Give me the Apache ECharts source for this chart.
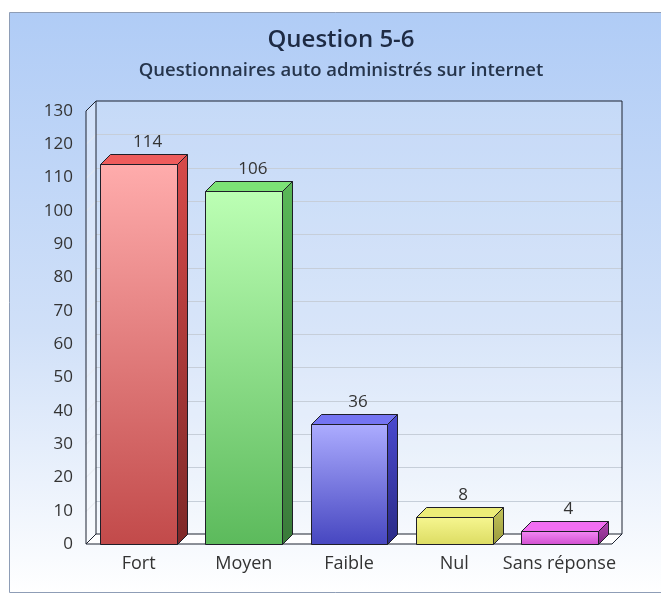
<!DOCTYPE html>
<html><head><meta charset="utf-8">
<script src="https://cdn.jsdelivr.net/npm/echarts@6/dist/echarts.min.js"></script>
<style>html,body{margin:0;padding:0;background:#fff}#c{width:661px;height:596px}</style>
</head><body><div id="c"></div>
<script>
const categories = ['Fort', 'Moyen', 'Faible', 'Nul', 'Sans réponse'];
const values = [114, 106, 36, 8, 4];
const yTicks = [0, 10, 20, 30, 40, 50, 60, 70, 80, 90, 100, 110, 120, 130];
const titleText = 'Question 5-6';
const subtitleText = 'Questionnaires auto administrés sur internet';

// per-bar colours: [frontTop, frontBottom, topFace, sideTop, sideBottom]
const palette = [
  ['#ffacac', '#c24a4a', '#ee5c5c', '#d84a4a', '#7e2828'],
  ['#bcffb4', '#5cba5c', '#7ce276', '#5ab858', '#3a7a3a'],
  ['#acacff', '#4646c0', '#7474f2', '#4a4ad0', '#2a2a86'],
  ['#f6f690', '#dcdc62', '#ecec78', '#c4c45a', '#9a9a3c'],
  ['#f488f4', '#d04ed0', '#f26ef2', '#b444b4', '#7e2a7e']
];
const D = 10;
const FONT = '"Open Sans", sans-serif';

const chart = echarts.init(document.getElementById('c'), null, {renderer: 'canvas'});

function grad(a, b) {
  return new echarts.graphic.LinearGradient(0, 0, 0, 1, [{offset: 0, color: a}, {offset: 1, color: b}]);
}

const option = {
  backgroundColor: '#ffffff',
  animation: false,
  graphic: [
    {type: 'rect', z: -10, shape: {x: 9.5, y: 12.5, width: 670, height: 580},
     style: {fill: new echarts.graphic.LinearGradient(0, 0, 0, 1, [
       {offset: 0, color: '#b0ccf6'}, {offset: 0.55, color: '#d0e0f8'}, {offset: 1, color: '#ffffff'}]),
       stroke: '#8e9db6', lineWidth: 1}},
    {type: 'text', z: 10, x: 341, y: 40, style: {text: titleText, fill: '#1e2b44',
      font: '600 24px ' + FONT, textAlign: 'center', textVerticalAlign: 'middle'}},
    {type: 'text', z: 10, x: 341, y: 71, style: {text: subtitleText, fill: '#26354c',
      font: '600 18.5px ' + FONT, textAlign: 'center', textVerticalAlign: 'middle'}}
  ],
  grid: {left: 86, top: 111, width: 526, height: 433, containLabel: false},
  xAxis: {
    type: 'category', data: categories,
    axisLine: {show: false}, axisTick: {show: false},
    axisLabel: {color: '#333', fontSize: 18, fontFamily: FONT, margin: 11, interval: 0}
  },
  yAxis: {
    type: 'value', min: 0, max: 130, interval: 10,
    axisLine: {show: false}, axisTick: {show: false}, splitLine: {show: false},
    axisLabel: {color: '#333', fontSize: 17, fontFamily: FONT, margin: 13}
  },
  series: [
    {
      type: 'custom', z: 1, silent: true,
      data: [[0, 0]],
      renderItem: function (params, api) {
        const cs = params.coordSys;
        const x = cs.x, y = cs.y, w = cs.width, h = cs.height;
        const children = [];
        children.push({type: 'rect', shape: {x: x + D, y: y - D, width: w, height: h},
          style: {fill: 'rgba(255,255,255,0.18)', stroke: null}});
        yTicks.forEach(function (v) {
          if (v === 0 || v === 130) return;
          const py = Math.round(api.coord([0, v])[1]) + 0.5;
          children.push({type: 'line', shape: {x1: x + D, y1: py - D, x2: x + w + D, y2: py - D},
            style: {stroke: '#c6ced9', lineWidth: 1}});
          children.push({type: 'line', shape: {x1: x, y1: py, x2: x + D, y2: py - D},
            style: {stroke: '#d8dee8', lineWidth: 1}});
        });
        children.push({type: 'polygon', shape: {points: [[x, y + h], [x, y], [x + D, y - D], [x + D, y + h - D]]},
          style: {fill: 'rgba(255,255,255,0.35)', stroke: '#1c2230', lineWidth: 1}});
        children.push({type: 'polygon', shape: {points: [[x, y + h], [x + D, y + h - D], [x + w + D, y + h - D], [x + w, y + h]]},
          style: {fill: 'rgba(255,255,255,0.85)', stroke: '#1c2230', lineWidth: 1}});
        children.push({type: 'polyline', shape: {points: [[x + D, y - D], [x + w + D, y - D], [x + w + D, y + h - D]]},
          style: {fill: null, stroke: '#1c2230', lineWidth: 1}});
        return {type: 'group', children: children};
      }
    },
    {
      type: 'custom', z: 2, silent: true,
      data: values.map(function (v, i) { return [i, v]; }),
      renderItem: function (params, api) {
        const i = api.value(0);
        const v = api.value(1);
        const top = api.coord([i, v]);
        const base = api.coord([i, 0]);
        const band = api.size([1, 0])[0];
        const bw = band * 0.73;
        const x0 = Math.round(top[0] - bw / 2) + 0.5, x1 = Math.round(top[0] + bw / 2) + 0.5;
        const yT = Math.round(top[1]) + 0.5, yB = Math.round(base[1]) + 0.5;
        const p = palette[i];
        const stroke = '#1e1e28';
        return {type: 'group', children: [
          {type: 'polygon', shape: {points: [[x1, yT], [x1 + D, yT - D], [x1 + D, yB - D], [x1, yB]]},
            style: {fill: grad(p[3], p[4]), stroke: stroke, lineWidth: 1}},
          {type: 'polygon', shape: {points: [[x0, yT], [x0 + D, yT - D], [x1 + D, yT - D], [x1, yT]]},
            style: {fill: p[2], stroke: stroke, lineWidth: 1}},
          {type: 'rect', shape: {x: x0, y: yT, width: x1 - x0, height: yB - yT},
            style: {fill: grad(p[0], p[1]), stroke: stroke, lineWidth: 1}},
          {type: 'text', x: top[0] + D - 1, y: yT - D - 12,
            style: {text: String(v), fill: '#333', font: '17px ' + FONT, textAlign: 'center', textVerticalAlign: 'middle'}}
        ]};
      }
    }
  ]
};
chart.setOption(option);
</script></body></html>
